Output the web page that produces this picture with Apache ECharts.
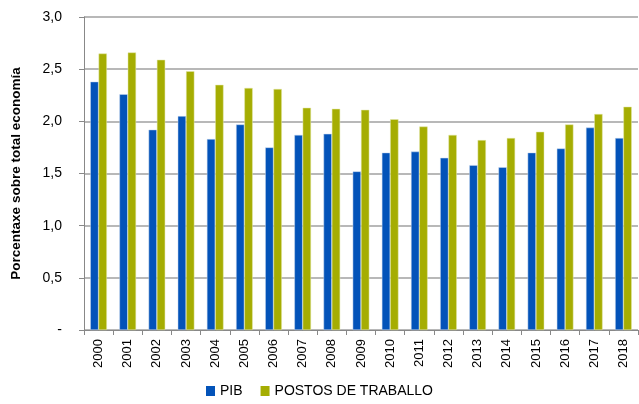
<!DOCTYPE html>
<html>
<head>
<meta charset="utf-8">
<script src="https://cdn.jsdelivr.net/npm/echarts@6/dist/echarts.min.js"></script>
<style>
  html, body { margin: 0; padding: 0; background: #fff; }
  #chart { width: 639px; height: 404px; }
</style>
</head>
<body>
<div id="chart"></div>
<script>
// datos
const years = ['2000', '2001', '2002', '2003', '2004', '2005', '2006', '2007', '2008', '2009',
               '2010', '2011', '2012', '2013', '2014', '2015', '2016', '2017', '2018'];
const pib = [2.38, 2.26, 1.92, 2.05, 1.83, 1.97, 1.75, 1.87, 1.88, 1.52,
             1.70, 1.71, 1.65, 1.58, 1.56, 1.70, 1.74, 1.94, 1.84];
const postos = [2.65, 2.66, 2.59, 2.48, 2.35, 2.32, 2.31, 2.13, 2.12, 2.11,
                2.02, 1.95, 1.87, 1.82, 1.84, 1.90, 1.97, 2.07, 2.14];

const FONT = '"Liberation Sans", sans-serif';

const chart = echarts.init(document.getElementById('chart'));

chart.setOption({
    animation: false,
    textStyle: { fontFamily: FONT },
    grid: { left: 84, right: 1, top: 17, bottom: 74 },
    legend: {
        bottom: 1,
        left: 'center',
        itemWidth: 9,
        itemHeight: 10,
        itemGap: 18,
        icon: 'rect',
        itemStyle: { borderWidth: 0 },
        textStyle: { fontSize: 14, color: '#000', fontFamily: FONT },
        data: ['PIB', 'POSTOS DE TRABALLO']
    },
    xAxis: {
        type: 'category',
        data: years,
        axisLine: { lineStyle: { color: '#888', width: 1 } },
        axisTick: { show: true, length: 5, lineStyle: { color: '#888' } },
        axisLabel: { rotate: 90, color: '#000', fontSize: 13, margin: 9 }
    },
    yAxis: {
        type: 'value',
        min: 0,
        max: 3,
        interval: 0.5,
        name: 'Porcentaxe sobre total economía',
        nameLocation: 'middle',
        nameGap: 61,
        nameTextStyle: { fontWeight: 'bold', fontSize: 13.5, color: '#000', fontFamily: FONT },
        axisLine: { show: true, lineStyle: { color: '#888' } },
        axisTick: { show: true, length: 5, lineStyle: { color: '#888' } },
        axisLabel: {
            color: '#000',
            fontSize: 14,
            margin: 22,
            formatter: v => v === 0 ? '-' : v.toFixed(1).replace('.', ',')
        },
        splitLine: { lineStyle: { color: '#a0a0a0', width: 1.5 } }
    },
    series: [
        {
            name: 'PIB',
            type: 'bar',
            data: pib,
            barGap: '0%',
            barCategoryGap: '43%',
            itemStyle: { color: '#0353B9', borderColor: '#c9d8ef', borderWidth: 0.5 }
        },
        {
            name: 'POSTOS DE TRABALLO',
            type: 'bar',
            data: postos,
            itemStyle: { color: '#A5AD02', borderColor: '#e3e6a8', borderWidth: 0.5 }
        }
    ]
});
</script>
</body>
</html>
